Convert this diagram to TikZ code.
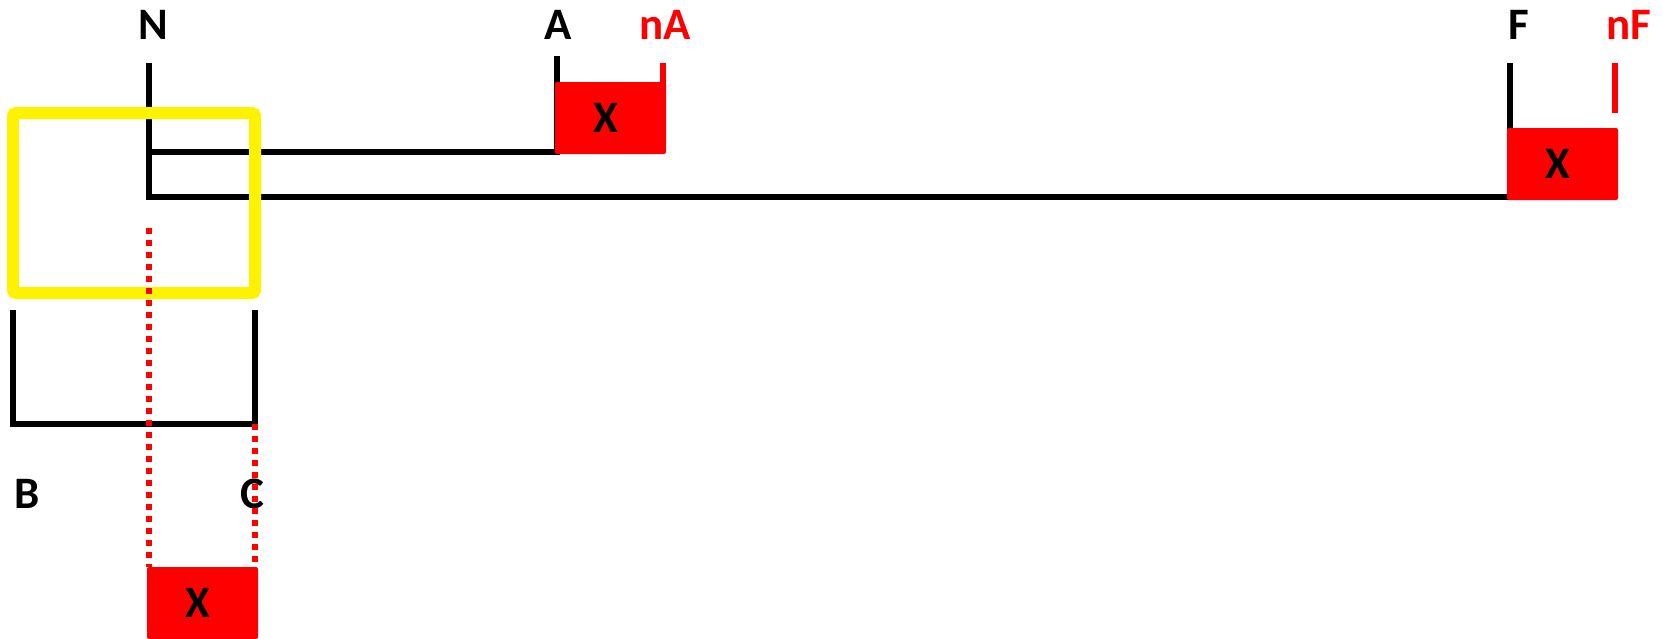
\documentclass[tikz,border=0pt]{standalone}
\usepackage{fontspec}
\setmainfont{Carlito}
\begin{document}
\begin{tikzpicture}[x=0.5pt,y=-0.5pt,
  lbl/.style={font=\bfseries\fontsize{22.5}{24}\selectfont, inner sep=0pt, anchor=center},
  redlbl/.style={lbl, text=red},
  xbox/.style={fill=red, draw=none, rounded corners=1pt, minimum width=55.5pt, minimum height=36pt, inner sep=0pt, font=\bfseries\fontsize{22.5}{24}\selectfont},
  blk/.style={line width=2.6pt, black},
  tick/.style={line width=2.8pt, red},
  dots/.style={line width=2.6pt, red, dash pattern=on 2.8pt off 3.2pt},
  hl/.style={line width=6pt, yellow, rounded corners=1.5pt}]
\useasboundingbox (0,0) rectangle (1663,638);
% labels
\node[lbl] (N) at (153,25) {N};
\node[lbl] (A) at (558,25) {A};
\node[redlbl] (nA) at (665,25) {nA};
\node[lbl] (F) at (1519,25) {F};
\node[redlbl] (nF) at (1629,25) {nF};
\node[lbl] (B) at (27,494) {B};
\node[lbl] (C) at (252,494) {C};
% coordinates
\coordinate (Ntop) at (149,63);
\coordinate (N1) at (149,152);
\coordinate (N2) at (149,197);
\coordinate (Atop) at (557,56);
\coordinate (Abot) at (557,152);
\coordinate (Ftop) at (1510,63);
\coordinate (Fbot) at (1510,197);
\coordinate (Btop) at (13,310);
\coordinate (Bbot) at (13,424);
\coordinate (Ctop) at (255,310);
\coordinate (Cbot) at (255,424);
\coordinate (nAtop) at (663,63);
\coordinate (nAbot) at (663,84);
\coordinate (nFtop) at (1615,63);
\coordinate (nFbot) at (1615,113);
\coordinate (d1top) at (149,228);
\coordinate (d1bot) at (149,567);
\coordinate (d2bot) at (255,567);
% black lines
\draw[blk] (Ntop) -- (N2) -- (Fbot) -- (Ftop);
\draw[blk] (N1) -- (Abot) -- (Atop);
\draw[blk] (Btop) -- (Bbot) -- (Cbot) -- (Ctop);
% red boxes
\node[xbox] (XA) at (610.5,118) {X\kern5pt};
\node[xbox] (XF) at (1562.5,164) {X\kern5pt};
\node[xbox] (XB) at (202.5,603) {X\kern5pt};
% red ticks
\draw[tick] (nAtop) -- (nAbot);
\draw[tick] (nFtop) -- (nFbot);
% yellow highlight
\draw[hl] (13,113) rectangle (255,293);
% red dotted
\draw[dots] (d1top) -- (d1bot);
\draw[dots] (Cbot) -- (d2bot);
\end{tikzpicture}
\end{document}
